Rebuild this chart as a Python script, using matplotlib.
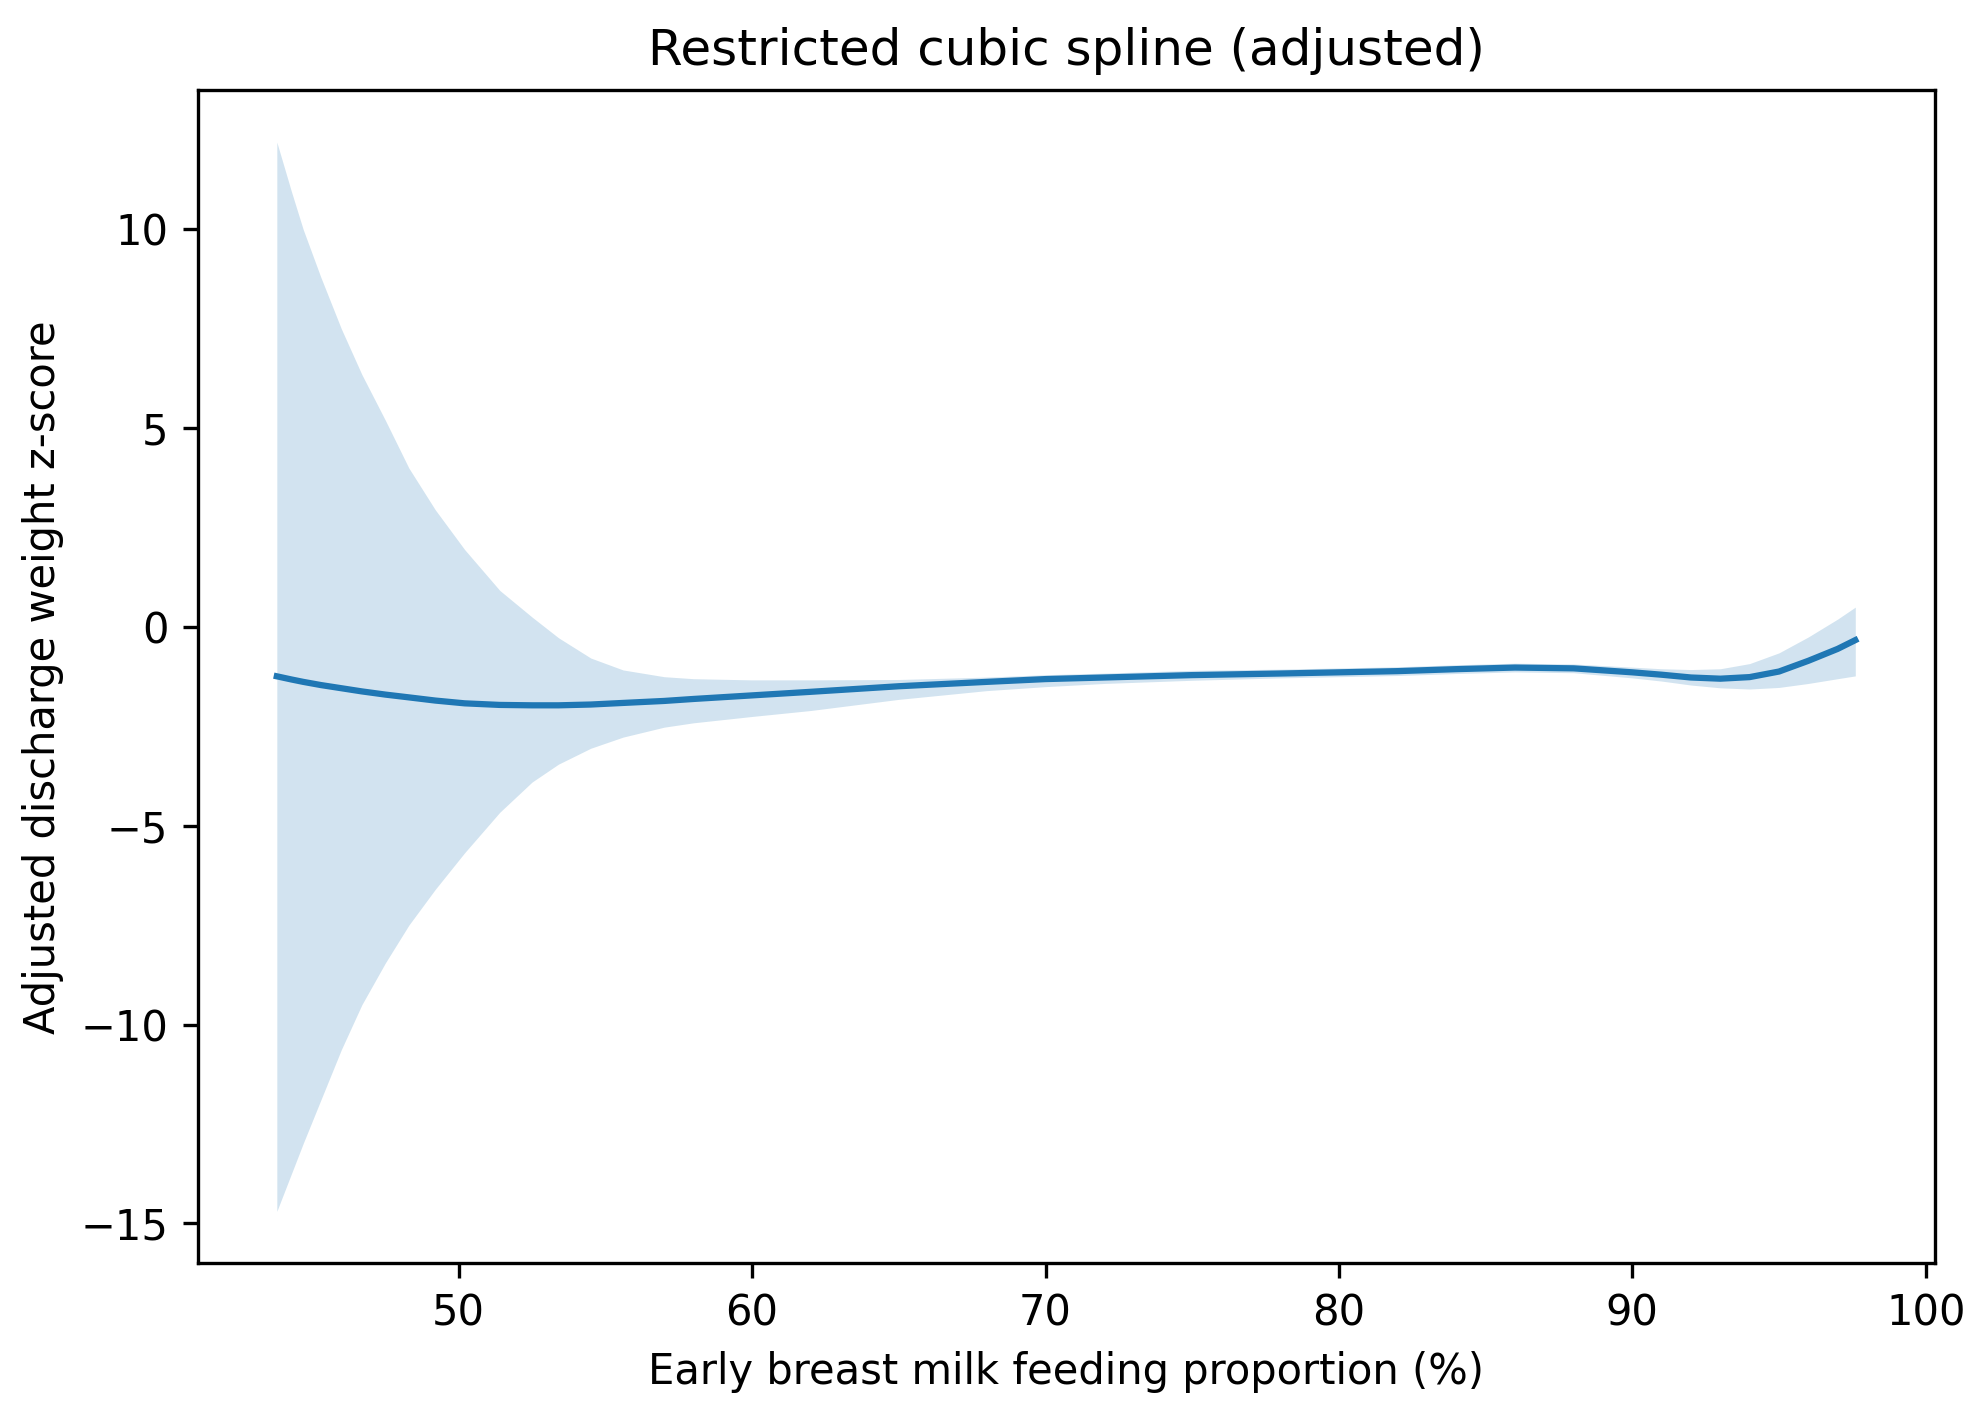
import matplotlib
matplotlib.use('Agg')
import numpy as np
import matplotlib.pyplot as plt

# Values.
feeding_pct = [43.8, 44.3, 44.7, 45.3, 46, 46.7, 47.5, 48.3, 49.2, 50.2, 51.4, 52.5, 53.4, 54.5,
               55.6, 57, 58, 60, 62, 65, 68, 70, 72, 75, 78, 80, 82, 84, 86, 88, 90, 91, 92,
               93, 94, 95, 96, 97, 97.6]
zscore_fit = [-1.24, -1.32, -1.38, -1.46, -1.54, -1.62, -1.70, -1.77, -1.85, -1.92, -1.96, -1.97,
              -1.97, -1.95, -1.91, -1.86, -1.81, -1.72, -1.63, -1.49, -1.38, -1.31, -1.27, -1.21,
              -1.17, -1.14, -1.11, -1.06, -1.02, -1.04, -1.14, -1.20, -1.27, -1.30, -1.26, -1.12,
              -0.85, -0.55, -0.33]
ci_upper = [12.2, 10.95, 10.0, 8.8, 7.5, 6.35, 5.2, 4.0, 2.95, 1.95, 0.92, 0.25, -0.27, -0.78,
            -1.08, -1.25, -1.30, -1.33, -1.33, -1.32, -1.26, -1.2, -1.16, -1.09, -1.06, -1.03,
            -1.0, -0.95, -0.91, -0.93, -1.01, -1.05, -1.07, -1.05, -0.92, -0.65, -0.25, 0.2, 0.5]
ci_lower = [-14.7, -13.75, -12.99, -11.9, -10.63, -9.5, -8.45, -7.5, -6.6, -5.68, -4.66, -3.9,
            -3.45, -3.05, -2.77, -2.52, -2.41, -2.25, -2.1, -1.82, -1.6, -1.5, -1.42, -1.34,
            -1.28, -1.25, -1.22, -1.17, -1.13, -1.15, -1.28, -1.36, -1.46, -1.53, -1.56, -1.52,
            -1.42, -1.3, -1.23]

fig = plt.figure(figsize = (1976 / 300, 1412 / 300), dpi = 300)
ax = fig.add_axes([0.100, 0.1055, 0.879, 0.8305])

# Confidence band first, fitted spline on top.
ax.fill_between(feeding_pct, ci_lower, ci_upper, color = 'tab:blue', alpha = 0.2, linewidth = 0)
ax.plot(feeding_pct, zscore_fit, color = 'tab:blue', linewidth = 1.5)

ax.set_title('Restricted cubic spline (adjusted)', fontsize = 12)
ax.set_xlabel('Early breast milk feeding proportion (%)')
ax.set_ylabel('Adjusted discharge weight z-score')
ax.set_xticks([50, 60, 70, 80, 90, 100])
ax.set_yticks([-15, -10, -5, 0, 5, 10])
ax.set_xlim(41.1, 100.3)
ax.set_ylim(-16.0, 13.5)

fig.savefig('out.png', dpi = 300)
